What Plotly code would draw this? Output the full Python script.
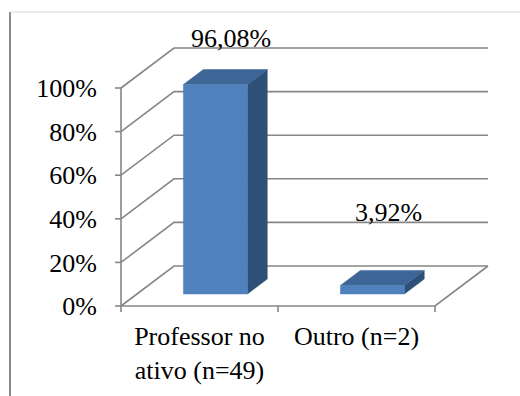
import plotly.graph_objects as go

# ---- data -------------------------------------------------------------
categories = ["Professor no<br>ativo (n=49)", "Outro (n=2)"]
percentages = [96.08, 3.92]
value_labels = ["96,08%", "3,92%"]
y_ticks = [0, 20, 40, 60, 80, 100]
y_tick_labels = ["0%", "20%", "40%", "60%", "80%", "100%"]

# ---- geometry of the pseudo-3D frame ---------------------------------
W, H = 520, 396
ORIGIN_X, ORIGIN_Y = 121, 306     # pixel of the front-left floor corner
CAT_PX = 157                      # pixels per category on the front plane
PCT_PX = 2.18                     # pixels per percentage point
DEPTH_X = 53 / CAT_PX             # back-wall offset, x units
DEPTH_Y = 40 / PCT_PX             # back-wall offset, % units
BAR_W = 64 / CAT_PX               # bar width, x units
BAR_F0, BAR_F1 = 0.30, 0.675      # bar front/back as fraction of floor depth
LABEL_LIFT = [31, 58]             # pixel lift of each value label

x_lo = 0.5 - ORIGIN_X / CAT_PX
x_hi = 0.5 + (W - ORIGIN_X) / CAT_PX
y_lo = -(H - ORIGIN_Y) / PCT_PX
y_hi = ORIGIN_Y / PCT_PX

GRID = "#868686"
FRONT, TOP, SIDE = "#4F81BD", "#3D6696", "#2E5077"
FONT = "Liberation Serif, Times New Roman, Tinos, serif"

n_cat = len(categories)
left, right = 0.5, n_cat + 0.5

fig = go.Figure()

# walls, floor, axis line and tick marks
gx, gy = [], []
for v in y_ticks:
    gx += [left, left + DEPTH_X, right + DEPTH_X, None]
    gy += [v, v + DEPTH_Y, v + DEPTH_Y, None]
    gx += [left - 6 / CAT_PX, left, None]
    gy += [v, v, None]
gx += [left, right, right + DEPTH_X, None]
gy += [0, 0, DEPTH_Y, None]
gx += [left, left, None]
gy += [0, y_ticks[-1], None]
for k in range(n_cat + 1):
    gx += [left + k, left + k, None]
    gy += [0, -6 / PCT_PX, None]
fig.add_trace(go.Scatter(x=gx, y=gy, mode="lines",
                         line=dict(color=GRID, width=1.6),
                         hoverinfo="skip", showlegend=False))

# bars: side, top and front faces
for i, v in enumerate(percentages):
    c = i + 1
    xl, xr = c - BAR_W / 2, c + BAR_W / 2
    ax0, ay0 = BAR_F0 * DEPTH_X, BAR_F0 * DEPTH_Y
    ax1, ay1 = BAR_F1 * DEPTH_X, BAR_F1 * DEPTH_Y
    faces = [
        ([xr + ax0, xr + ax1, xr + ax1, xr + ax0, xr + ax0],
         [ay0, ay1, v + ay1, v + ay0, ay0], SIDE),
        ([xl + ax0, xr + ax0, xr + ax1, xl + ax1, xl + ax0],
         [v + ay0, v + ay0, v + ay1, v + ay1, v + ay0], TOP),
        ([xl + ax0, xr + ax0, xr + ax0, xl + ax0, xl + ax0],
         [ay0, ay0, v + ay0, v + ay0, ay0], FRONT),
    ]
    for fx, fy, col in faces:
        fig.add_trace(go.Scatter(x=fx, y=fy, mode="lines", fill="toself",
                                 fillcolor=col, line=dict(color=col, width=0.5),
                                 hoverinfo="skip", showlegend=False))
    fig.add_annotation(x=c + 0.6 * DEPTH_X, y=v + ay1, text=value_labels[i],
                       showarrow=False, yshift=LABEL_LIFT[i],
                       font=dict(family=FONT, size=26, color="black"))

# chart border (left and top edges)
fig.add_shape(type="line", xref="paper", yref="paper",
              x0=10 / W, x1=10 / W, y0=(H - 12) / H, y1=0,
              line=dict(color="#8a8a8a", width=2))
fig.add_shape(type="line", xref="paper", yref="paper",
              x0=10 / W, x1=1, y0=(H - 12) / H, y1=(H - 12) / H,
              line=dict(color="#d9d9d9", width=1))

fig.update_layout(
    width=W, height=H,
    margin=dict(l=0, r=0, t=0, b=0),
    paper_bgcolor="white", plot_bgcolor="white",
    font=dict(family=FONT, size=26, color="black"),
    xaxis=dict(range=[x_lo, x_hi], domain=[0, 1], anchor="free",
               position=(H - ORIGIN_Y) / H,
               tickvals=list(range(1, n_cat + 1)), ticktext=categories,
               tickfont=dict(family=FONT, size=26, color="black"),
               ticks="", showline=False, showgrid=False, zeroline=False,
               ticklabelstandoff=12, automargin=False),
    yaxis=dict(range=[y_lo, y_hi], domain=[0, 1], anchor="free",
               position=ORIGIN_X / W,
               tickvals=y_ticks, ticktext=y_tick_labels,
               tickfont=dict(family=FONT, size=26, color="black"),
               ticks="", showline=False, showgrid=False, zeroline=False,
               ticklabelstandoff=24, automargin=False),
)

fig.write_html("out.html")
